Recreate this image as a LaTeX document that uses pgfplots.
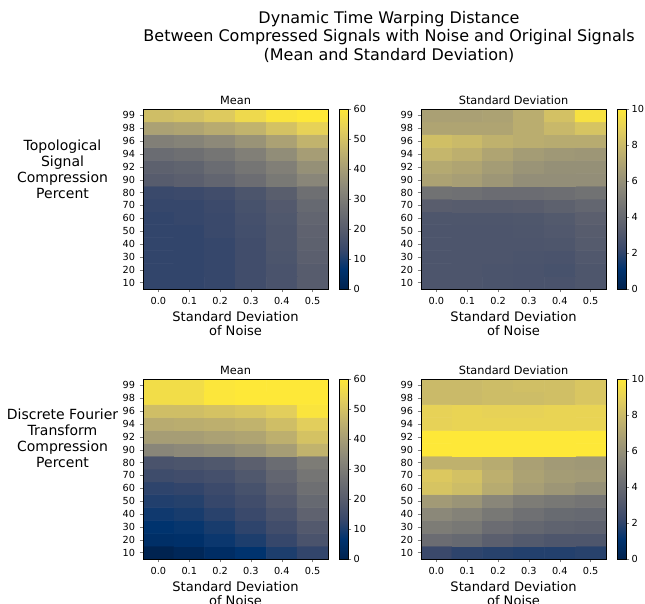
\documentclass[border=0pt]{standalone}
\usepackage{fontspec}
\setmainfont{DejaVu Sans}
\usepackage{pgfplots}
\usepackage{pgfplotstable}
\pgfplotsset{compat=1.18}
\pgfplotsset{/pgf/number format/assume math mode=true}
\pgfplotsset{colormap={cividis}{rgb255=(0,34,78) rgb255=(0,51,111) rgb255=(57,72,107) rgb255=(87,92,109) rgb255=(112,113,115) rgb255=(138,135,121) rgb255=(166,157,117) rgb255=(196,181,108) rgb255=(228,207,91) rgb255=(254,232,56)}}

\pgfplotsset{hm/.style={
  scale only axis, width=138.75pt, height=135pt,
  xmin=-0.5, xmax=5.5, ymin=-0.5, ymax=13.5,
  xtick={0,1,2,3,4,5}, xticklabels={0.0,0.1,0.2,0.3,0.4,0.5},
  ytick={0,...,13}, yticklabels={10,20,30,40,50,60,70,80,90,92,94,96,98,99},
  tick align=outside, tick pos=left, major tick length=2.5pt,
  tick label style={font=\fontsize{7.3}{8}\selectfont},
  xlabel={Standard Deviation\\of Noise},
  xlabel style={at={(axis description cs:0.5,0)}, anchor=north, inner sep=0pt, yshift=-16.8pt, align=center, font=\fontsize{9.8}{10.7}\selectfont},
  title style={at={(axis description cs:0.5,1)}, anchor=base, inner sep=0pt, yshift=-2.75pt, font=\fontsize{8.5}{9}\selectfont},
  colormap name=cividis, colorbar,
  colorbar style={scale only axis, width=6.2pt, height=135pt,
     tick align=outside, ytick pos=right, yticklabel pos=right, major tick length=2.5pt,
     tick label style={font=\fontsize{7.3}{8}\selectfont},
     yticklabel style={inner sep=1.6pt}},
  axis on top,
}}

% Topological signal compression, mean
\pgfplotstableread[row sep=\\]{
x y c\\
0 0 12.5\\ 1 0 12.5\\ 2 0 13\\ 3 0 15\\ 4 0 17\\ 5 0 20\\
0 1 12.5\\ 1 1 12.5\\ 2 1 13\\ 3 1 15\\ 4 1 17\\ 5 1 20\\
0 2 12.5\\ 1 2 12.5\\ 2 2 13\\ 3 2 15\\ 4 2 17.5\\ 5 2 21\\
0 3 12.5\\ 1 3 12.5\\ 2 3 13\\ 3 3 15\\ 4 3 18\\ 5 3 21.5\\
0 4 12.5\\ 1 4 12.5\\ 2 4 13.5\\ 3 4 15.5\\ 4 4 18\\ 5 4 22\\
0 5 12.5\\ 1 5 13\\ 2 5 13.5\\ 3 5 16\\ 4 5 18.5\\ 5 5 23\\
0 6 13\\ 1 6 13\\ 2 6 14\\ 3 6 16.5\\ 4 6 19\\ 5 6 24\\
0 7 13.5\\ 1 7 14\\ 2 7 15\\ 3 7 17.5\\ 4 7 20.5\\ 5 7 26\\
0 8 20\\ 1 8 21\\ 2 8 23\\ 3 8 25.5\\ 4 8 29\\ 5 8 33\\
0 9 21.5\\ 1 9 22.5\\ 2 9 25\\ 3 9 28\\ 4 9 31\\ 5 9 36\\
0 10 25\\ 1 10 26\\ 2 10 28\\ 3 10 31\\ 4 10 35\\ 5 10 40\\
0 11 31\\ 1 11 32\\ 2 11 34\\ 3 11 37\\ 4 11 41\\ 5 11 46\\
0 12 41\\ 1 12 42\\ 2 12 44\\ 3 12 46\\ 4 12 50\\ 5 12 54\\
0 13 49\\ 1 13 50\\ 2 13 52\\ 3 13 56\\ 4 13 59\\ 5 13 60\\
}\TSCmean

% Topological signal compression, standard deviation
\pgfplotstableread[row sep=\\]{
x y c\\
0 0 2.95\\ 1 0 2.95\\ 2 0 2.9\\ 3 0 2.85\\ 4 0 2.85\\ 5 0 3.0\\
0 1 2.95\\ 1 1 2.95\\ 2 1 2.9\\ 3 1 2.85\\ 4 1 2.75\\ 5 1 3.0\\
0 2 2.95\\ 1 2 2.95\\ 2 2 2.95\\ 3 2 2.9\\ 4 2 2.85\\ 5 2 3.1\\
0 3 2.95\\ 1 3 2.95\\ 2 3 2.95\\ 3 3 2.95\\ 4 3 3.0\\ 5 3 3.25\\
0 4 2.95\\ 1 4 2.95\\ 2 4 2.95\\ 3 4 3.0\\ 4 4 3.1\\ 5 4 3.35\\
0 5 3.0\\ 1 5 3.0\\ 2 5 3.0\\ 3 5 3.05\\ 4 5 3.2\\ 5 5 3.5\\
0 6 3.4\\ 1 6 3.35\\ 2 6 3.35\\ 3 6 3.4\\ 4 6 3.6\\ 5 6 3.85\\
0 7 4.5\\ 1 7 4.4\\ 2 7 4.2\\ 3 7 4.2\\ 4 7 4.3\\ 5 7 4.5\\
0 8 6.9\\ 1 8 6.7\\ 2 8 6.3\\ 3 8 5.9\\ 4 8 5.9\\ 5 8 5.9\\
0 9 7.2\\ 1 9 7.0\\ 2 9 6.6\\ 3 9 6.2\\ 4 9 6.0\\ 5 9 6.0\\
0 10 7.8\\ 1 10 7.5\\ 2 10 7.0\\ 3 10 6.6\\ 4 10 6.4\\ 5 10 6.3\\
0 11 8.2\\ 1 11 8.0\\ 2 11 7.6\\ 3 11 7.4\\ 4 11 7.3\\ 5 11 7.3\\
0 12 7.0\\ 1 12 7.0\\ 2 12 7.0\\ 3 12 7.4\\ 4 12 7.9\\ 5 12 8.4\\
0 13 6.8\\ 1 13 6.8\\ 2 13 6.9\\ 3 13 7.4\\ 4 13 8.3\\ 5 13 9.7\\
}\TSCstd

% Discrete Fourier transform compression, mean
\pgfplotstableread[row sep=\\]{
x y c\\
0 0 0.5\\ 1 0 2\\ 2 0 4.5\\ 3 0 6.5\\ 4 0 10\\ 5 0 12.5\\
0 1 5\\ 1 1 5.5\\ 2 1 8\\ 3 1 10\\ 4 1 13\\ 5 1 17\\
0 2 6.5\\ 1 2 7.5\\ 2 2 9.5\\ 3 2 12\\ 4 2 15\\ 5 2 19\\
0 3 8.5\\ 1 3 9.5\\ 2 3 11.5\\ 3 3 13.5\\ 4 3 17\\ 5 3 22\\
0 4 10.5\\ 1 4 11\\ 2 4 13\\ 3 4 15\\ 4 4 19\\ 5 4 24\\
0 5 12\\ 1 5 12.5\\ 2 5 14\\ 3 5 16.5\\ 4 5 21\\ 5 5 26\\
0 6 14.5\\ 1 6 15\\ 2 6 16\\ 3 6 18.5\\ 4 6 23\\ 5 6 28\\
0 7 17\\ 1 7 17.5\\ 2 7 18.5\\ 3 7 21\\ 4 7 25\\ 5 7 30\\
0 8 33\\ 1 8 34\\ 2 8 35\\ 3 8 37\\ 4 8 40\\ 5 8 46\\
0 9 40\\ 1 9 40\\ 2 9 41\\ 3 9 42\\ 4 9 45\\ 5 9 50\\
0 10 44\\ 1 10 44.5\\ 2 10 45\\ 3 10 46\\ 4 10 49\\ 5 10 53\\
0 11 49\\ 1 11 49\\ 2 11 50\\ 3 11 51\\ 4 11 53\\ 5 11 59\\
0 12 57\\ 1 12 57\\ 2 12 59.5\\ 3 12 60\\ 4 12 60\\ 5 12 60\\
0 13 57\\ 1 13 57\\ 2 13 59.5\\ 3 13 60\\ 4 13 60\\ 5 13 60\\
}\DFTmean

% Discrete Fourier transform compression, standard deviation
\pgfplotstableread[row sep=\\]{
x y c\\
0 0 2.3\\ 1 0 2.0\\ 2 0 1.9\\ 3 0 1.8\\ 4 0 1.8\\ 5 0 1.9\\
0 1 4.2\\ 1 1 4.0\\ 2 1 3.5\\ 3 1 3.2\\ 4 1 3.0\\ 5 1 3.0\\
0 2 5.0\\ 1 2 4.8\\ 2 2 4.2\\ 3 2 3.9\\ 4 2 3.7\\ 5 2 3.6\\
0 3 5.6\\ 1 3 5.3\\ 2 3 4.8\\ 3 3 4.4\\ 4 3 4.1\\ 5 3 4.0\\
0 4 6.5\\ 1 4 6.2\\ 2 4 5.5\\ 3 4 5.0\\ 4 4 4.8\\ 5 4 4.6\\
0 5 8.4\\ 1 5 8.1\\ 2 5 7.3\\ 3 5 6.7\\ 4 5 6.3\\ 5 5 6.0\\
0 6 8.6\\ 1 6 8.3\\ 2 6 7.5\\ 3 6 6.9\\ 4 6 6.6\\ 5 6 6.5\\
0 7 7.6\\ 1 7 7.6\\ 2 7 7.3\\ 3 7 6.8\\ 4 7 6.5\\ 5 7 6.4\\
0 8 10\\ 1 8 10\\ 2 8 10\\ 3 8 10\\ 4 8 10\\ 5 8 10\\
0 9 10\\ 1 9 10\\ 2 9 10\\ 3 9 10\\ 4 9 10\\ 5 9 10\\
0 10 9.0\\ 1 10 9.1\\ 2 10 9.1\\ 3 10 9.1\\ 4 10 9.1\\ 5 10 9.1\\
0 11 9.0\\ 1 11 9.1\\ 2 11 9.0\\ 3 11 9.0\\ 4 11 9.1\\ 5 11 9.1\\
0 12 8.0\\ 1 12 8.0\\ 2 12 8.1\\ 3 12 8.1\\ 4 12 8.2\\ 5 12 8.5\\
0 13 8.0\\ 1 13 8.0\\ 2 13 8.1\\ 3 13 8.2\\ 4 13 8.2\\ 5 13 8.5\\
}\DFTstd

\begin{document}
\begin{tikzpicture}
% suptitle
\node[align=center, font=\fontsize{12}{13.9}\selectfont] at (291.75pt,-27.4pt)
  {Dynamic Time Warping Distance\\Between Compressed Signals with Noise and Original Signals\\(Mean and Standard Deviation)};
% row labels
\node[align=center, font=\fontsize{10.5}{12}\selectfont] at (46.9pt,-126.75pt)
  {Topological\\Signal\\Compression\\Percent};
\node[align=center, font=\fontsize{10.5}{12}\selectfont] at (46.9pt,-328.5pt)
  {Discrete Fourier\\Transform\\Compression\\Percent};

\begin{axis}[hm, at={(107.25pt,-81.75pt)}, anchor=north west, title={Mean},
  point meta min=0, point meta max=60,
  colorbar style={ytick={0,10,20,30,40,50,60}}]
\addplot[matrix plot*, mesh/cols=6, point meta=explicit] table[x=x, y=y, meta=c]{\TSCmean};
\end{axis}

\begin{axis}[hm, at={(315.75pt,-81.75pt)}, anchor=north west, title={Standard Deviation},
  point meta min=0, point meta max=10,
  colorbar style={ytick={0,2,4,6,8,10}}]
\addplot[matrix plot*, mesh/cols=6, point meta=explicit] table[x=x, y=y, meta=c]{\TSCstd};
\end{axis}

\begin{axis}[hm, at={(107.25pt,-284.25pt)}, anchor=north west, title={Mean},
  point meta min=0, point meta max=60,
  colorbar style={ytick={0,10,20,30,40,50,60}}]
\addplot[matrix plot*, mesh/cols=6, point meta=explicit] table[x=x, y=y, meta=c]{\DFTmean};
\end{axis}

\begin{axis}[hm, at={(315.75pt,-284.25pt)}, anchor=north west, title={Standard Deviation},
  point meta min=0, point meta max=10,
  colorbar style={ytick={0,2,4,6,8,10}}]
\addplot[matrix plot*, mesh/cols=6, point meta=explicit] table[x=x, y=y, meta=c]{\DFTstd};
\end{axis}

\pgfresetboundingbox
\useasboundingbox (0pt,0pt) rectangle (483.75pt,-452.25pt);
\end{tikzpicture}
\end{document}
